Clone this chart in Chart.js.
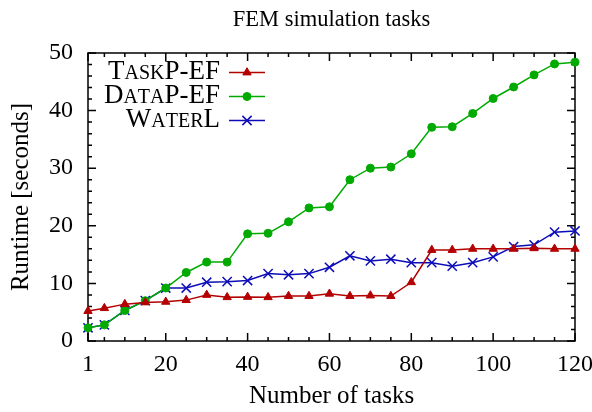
<!DOCTYPE html>
<html><head><meta charset="utf-8">
<script src="https://cdn.jsdelivr.net/npm/chart.js@4.4.0/dist/chart.umd.min.js"></script>
<style>html,body{margin:0;padding:0;background:#fff;}</style>
</head><body>
<canvas id="c" width="592" height="412" style="display:block;width:592px;height:412px"></canvas>
<script>
// ---- data ----
const nTasks  = [1, 5, 10, 15, 20, 25, 30, 35, 40, 45, 50, 55, 60, 65, 70, 75, 80, 85, 90, 95, 100, 105, 110, 115, 120];
const taskPEF = [5.2, 5.7, 6.4, 6.7, 6.8, 7.1, 8.0, 7.6, 7.65, 7.6, 7.8, 7.8, 8.2, 7.8, 7.9, 7.8, 10.2, 15.8, 15.8, 16.0, 16.0, 16.0, 16.1, 16.0, 16.0];
const dataPEF = [2.3, 2.8, 5.3, 7.0, 9.2, 11.9, 13.7, 13.7, 18.6, 18.7, 20.7, 23.1, 23.3, 28.0, 30.0, 30.2, 32.5, 37.1, 37.2, 39.5, 42.1, 44.1, 46.2, 48.1, 48.4];
const waterL  = [2.3, 2.8, 5.3, 7.0, 9.2, 9.2, 10.2, 10.3, 10.5, 11.7, 11.5, 11.7, 12.8, 14.8, 13.9, 14.2, 13.6, 13.6, 13.0, 13.6, 14.6, 16.4, 16.7, 18.9, 19.1];
const seriesNames = ['TaskP-EF', 'DataP-EF', 'WaterL'];
const xTickValues = [1, 5, 10, 15, 20, 25, 30, 35, 40, 45, 50, 55, 60, 65, 70, 75, 80, 85, 90, 95, 100, 105, 110, 115, 120];
const xTickLabels = [1, 20, 40, 60, 80, 100, 120];
const yTickValues = [0, 2, 4, 6, 8, 10, 12, 14, 16, 18, 20, 22, 24, 26, 28, 30, 32, 34, 36, 38, 40, 42, 44, 46, 48, 50];
const yTickLabels = [0, 10, 20, 30, 40, 50];
const chartTitle = 'FEM simulation tasks';
const xTitle = 'Number of tasks';
const yTitle = 'Runtime [seconds]';

const SERIF = '"Liberation Serif", "Times New Roman", serif';
Chart.defaults.font.family = SERIF;
Chart.defaults.color = '#000';

function pts(vals) { return nTasks.map((n, i) => ({x: n, y: vals[i]})); }

// title centred over the plot area
const titlePlugin = {
  id: 'plotTitle',
  afterDraw(chart) {
    const {ctx, chartArea: {left, right}} = chart;
    ctx.save();
    ctx.font = '22.5px ' + SERIF;
    ctx.fillStyle = '#000';
    ctx.textAlign = 'center';
    ctx.textBaseline = 'alphabetic';
    ctx.fillText(chartTitle, (left + right) / 2, 26);
    ctx.restore();
  }
};

// frame with inward mirrored ticks, drawn from the scales
const framePlugin = {
  id: 'frame',
  beforeDatasetsDraw(chart) {
    const {ctx, chartArea: {left, right, top, bottom}, scales: {x, y}} = chart;
    ctx.save();
    ctx.strokeStyle = '#000';
    ctx.lineWidth = 1.5;
    ctx.strokeRect(left, top, right - left, bottom - top);
    ctx.beginPath();
    x.ticks.forEach(t => {
      const px = x.getPixelForValue(t.value);
      const L = xTickLabels.includes(t.value) ? 8 : 4;
      ctx.moveTo(px, bottom); ctx.lineTo(px, bottom - L);
      ctx.moveTo(px, top); ctx.lineTo(px, top + L);
    });
    y.ticks.forEach(t => {
      const py = y.getPixelForValue(t.value);
      const L = yTickLabels.includes(t.value) ? 8 : 4;
      ctx.moveTo(left, py); ctx.lineTo(left + L, py);
      ctx.moveTo(right, py); ctx.lineTo(right - L, py);
    });
    ctx.stroke();
    ctx.restore();
  }
};

// legend with small caps text
const legendPlugin = {
  id: 'scLegend',
  afterDatasetsDraw(chart) {
    const ctx = chart.ctx;
    chart.data.datasets.forEach((ds, i) => {
      const baseY = 78.5 + i * 24;
      const rightX = 220;
      const parts = [];
      for (const ch of ds.label) {
        const small = ch !== ch.toUpperCase();
        parts.push({t: ch.toUpperCase(), f: (small ? '20px ' : '27px ') + SERIF});
      }
      ctx.save();
      ctx.textBaseline = 'alphabetic';
      ctx.textAlign = 'left';
      ctx.fillStyle = '#000';
      let total = 0;
      parts.forEach(p => { ctx.font = p.f; p.w = ctx.measureText(p.t).width; total += p.w; });
      let x = rightX - total;
      parts.forEach(p => { ctx.font = p.f; ctx.fillText(p.t, x, baseY); x += p.w; });
      const ly = baseY - 6;
      ctx.strokeStyle = ds.borderColor;
      ctx.lineWidth = ds.borderWidth;
      ctx.beginPath(); ctx.moveTo(229, ly); ctx.lineTo(265, ly); ctx.stroke();
      ctx.fillStyle = ds.pointBackgroundColor;
      ctx.strokeStyle = ds.pointBorderColor;
      ctx.lineWidth = ds.pointBorderWidth;
      Chart.helpers.drawPoint(ctx, {pointStyle: ds.pointStyle, radius: ds.pointRadius, borderWidth: ds.pointBorderWidth, rotation: 0}, 247, ly);
      ctx.restore();
    });
  }
};

const RED = '#b40000', GREEN = '#00aa00', BLUE = '#0c0cb8';

new Chart(document.getElementById('c'), {
  type: 'line',
  data: {
    datasets: [
      {label: seriesNames[0], data: pts(taskPEF), borderColor: RED, backgroundColor: RED,
       pointBackgroundColor: RED, pointBorderColor: RED, pointStyle: 'triangle', pointRadius: 4.8,
       pointBorderWidth: 1, borderWidth: 1.5, clip: false},
      {label: seriesNames[1], data: pts(dataPEF), borderColor: GREEN, backgroundColor: GREEN,
       pointBackgroundColor: GREEN, pointBorderColor: GREEN, pointStyle: 'circle', pointRadius: 4,
       pointBorderWidth: 1, borderWidth: 1.5, clip: false},
      {label: seriesNames[2], data: pts(waterL), borderColor: BLUE, backgroundColor: BLUE,
       pointBackgroundColor: BLUE, pointBorderColor: BLUE, pointStyle: 'crossRot', pointRadius: 6.5,
       pointBorderWidth: 1.5, borderWidth: 1.5, clip: false}
    ]
  },
  options: {
    responsive: false,
    animation: false,
    devicePixelRatio: 1,
    layout: {padding: {left: 0, right: 17, top: 53, bottom: 0}},
    plugins: {
      legend: {display: false},
      tooltip: {enabled: false},
      title: {display: false}
    },
    scales: {
      x: {
        type: 'linear', min: 1, max: 120,
        afterBuildTicks: s => { s.ticks = xTickValues.map(v => ({value: v})); },
        afterFit: s => { s.height = 71; s.paddingLeft = 0; s.paddingRight = 0; },
        ticks: {autoSkip: false, maxRotation: 0, minRotation: 0, padding: 9, color: '#000',
                font: {family: SERIF, size: 24},
                callback: v => xTickLabels.includes(v) ? String(v) : ''},
        grid: {display: false, drawTicks: false},
        border: {display: false},
        title: {display: true, text: xTitle, color: '#000', font: {family: SERIF, size: 25},
                padding: {top: 0, bottom: 1}}
      },
      y: {
        type: 'linear', min: 0, max: 50,
        afterBuildTicks: s => { s.ticks = yTickValues.map(v => ({value: v})); },
        afterFit: s => { s.width = 88; s.paddingTop = 0; s.paddingBottom = 0; },
        ticks: {autoSkip: false, padding: 15, color: '#000', font: {family: SERIF, size: 24},
                callback: v => yTickLabels.includes(v) ? String(v) : ''},
        grid: {display: false, drawTicks: false},
        border: {display: false},
        title: {display: true, text: yTitle, color: '#000', font: {family: SERIF, size: 25},
                padding: {top: 6, bottom: 0}}
      }
    }
  },
  plugins: [framePlugin, legendPlugin, titlePlugin]
});
</script>
</body></html>
